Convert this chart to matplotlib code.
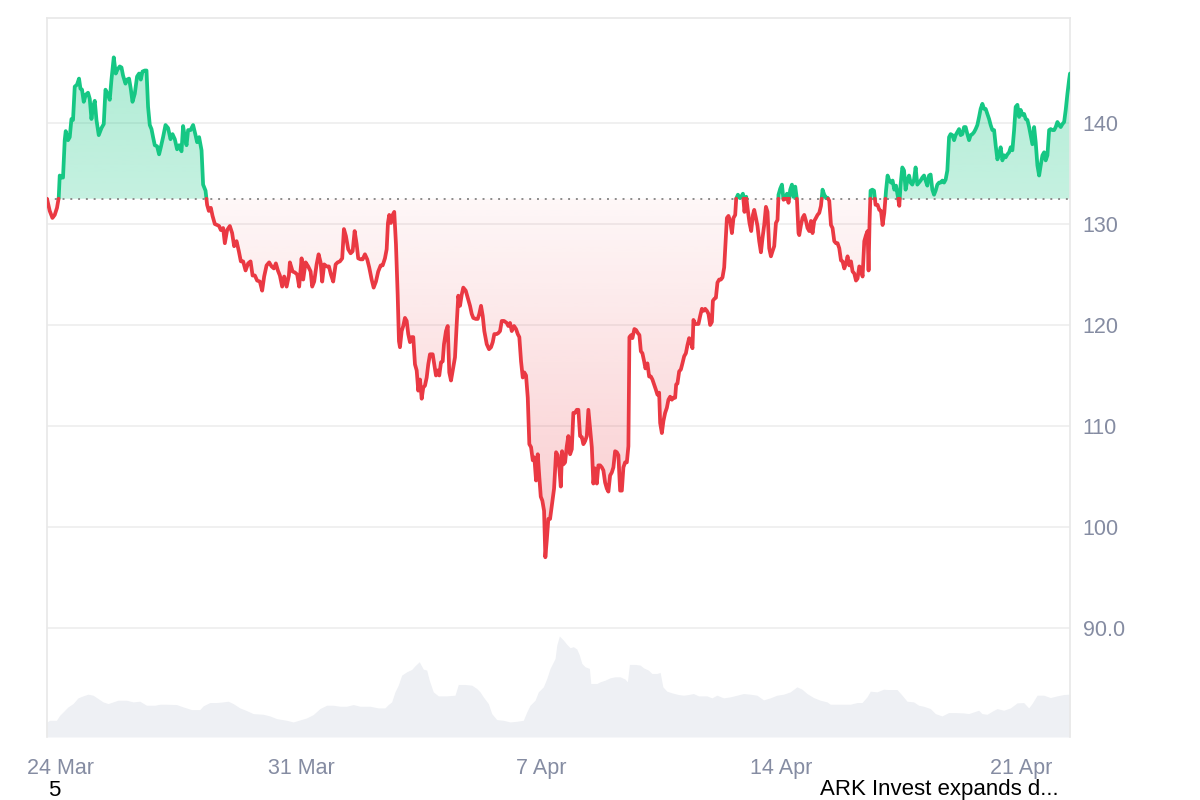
import numpy as np
import matplotlib.pyplot as plt
from matplotlib.path import Path
from matplotlib.colors import to_rgb

# (hours since 24 Mar 00:00, price in USD)
price_points = [
    (-9.6, 132.5), (-7.7, 131.3), (-5.8, 130.6), (-4.2, 130.9), (-2.6, 131.6), (-1.4, 132.6),
    (-0.7, 134.8), (0.5, 134.6), (1.6, 134.6), (2.8, 138.3), (3.5, 139.2), (5.1, 138.3),
    (6.3, 138.6), (7.5, 140.4), (8.6, 140.3), (9.8, 143.6), (11.4, 143.8), (12.8, 144.4),
    (13.8, 143.4), (14.9, 143.3), (16.1, 142.1), (17.5, 142.8), (19.1, 143.0), (20.3, 142.4),
    (21.5, 140.4), (22.6, 141.6), (23.8, 142.2), (25.0, 140.3), (26.6, 138.8), (28.5, 139.5),
    (30.1, 139.9), (31.3, 143.3), (32.7, 142.9), (34.3, 142.3), (35.5, 144.3), (37.1, 146.5),
    (38.5, 144.9), (39.7, 145.3), (41.3, 145.6), (42.5, 145.5), (43.6, 144.7), (45.3, 143.9),
    (46.4, 144.3), (47.8, 144.4), (49.0, 143.4), (50.2, 142.1), (51.8, 142.9), (53.4, 144.6),
    (54.8, 144.9), (56.0, 144.3), (57.2, 145.1), (58.8, 145.2), (60.0, 145.2), (61.1, 141.6),
    (62.3, 139.8), (63.5, 139.4), (64.6, 138.6), (65.8, 137.8), (67.4, 137.7), (68.8, 136.9),
    (70.0, 137.6), (71.6, 138.6), (73.3, 139.8), (75.1, 139.5), (76.8, 138.4), (78.2, 138.9),
    (79.8, 138.4), (81.4, 137.4), (82.8, 137.8), (84.5, 137.2), (85.6, 139.7), (86.8, 138.6),
    (88.0, 137.8), (89.1, 139.3), (90.8, 139.3), (92.6, 139.8), (94.3, 138.8), (95.4, 138.1),
    (96.8, 138.6), (98.5, 137.3), (99.6, 133.9), (101.3, 133.3), (102.4, 131.9), (103.6, 131.3),
    (105.0, 131.6), (106.2, 130.8), (107.8, 130.0), (109.4, 129.9), (110.8, 129.8), (112.0, 129.4),
    (113.6, 129.6), (114.8, 128.1), (116.4, 129.4), (118.3, 129.8), (119.9, 129.1), (121.3, 127.8),
    (123.0, 128.3), (124.6, 127.3), (126.0, 126.3), (127.6, 126.3), (129.3, 125.4), (131.1, 126.1),
    (132.8, 126.3), (134.2, 124.9), (135.8, 124.9), (137.4, 124.4), (139.3, 124.3), (140.9, 123.4),
    (142.3, 124.8), (144.0, 125.9), (145.8, 126.2), (147.5, 125.8), (149.1, 125.6), (150.5, 126.1),
    (151.9, 125.4), (153.3, 124.9), (154.9, 123.8), (156.3, 124.8), (158.0, 123.8), (159.6, 124.9),
    (160.3, 126.2), (162.2, 125.3), (163.8, 125.2), (165.4, 125.0), (166.8, 123.8), (168.5, 126.6),
    (169.6, 124.5), (171.3, 126.2), (173.1, 125.8), (174.8, 125.3), (175.9, 123.8), (177.3, 124.3),
    (179.0, 126.0), (180.4, 127.0), (181.8, 126.2), (182.9, 124.3), (184.3, 126.0), (186.0, 125.8),
    (187.6, 125.8), (189.0, 125.0), (190.6, 124.3), (192.3, 126.0), (193.7, 126.2), (195.3, 126.3),
    (196.9, 126.6), (198.1, 129.5), (199.5, 128.8), (201.1, 127.5), (202.8, 127.1), (204.2, 127.3),
    (205.6, 129.3), (207.0, 128.0), (208.1, 126.6), (209.8, 126.5), (211.2, 126.5), (212.8, 127.0),
    (214.4, 126.5), (215.8, 125.7), (217.5, 124.5), (218.9, 123.7), (220.5, 124.3), (222.1, 125.3),
    (223.8, 125.9), (225.2, 125.9), (226.8, 126.6), (228.0, 127.5), (228.9, 130.1), (229.8, 130.9),
    (231.0, 130.1), (232.2, 130.9), (233.3, 131.2), (234.5, 128.0), (235.7, 123.0), (236.6, 118.4),
    (237.3, 117.8), (238.5, 119.4), (239.6, 119.9), (240.8, 120.7), (242.0, 120.4), (243.1, 119.1),
    (244.3, 118.3), (245.5, 118.8), (246.6, 118.8), (247.8, 116.1), (249.0, 115.5), (250.1, 113.5),
    (251.3, 114.6), (252.5, 112.7), (253.6, 113.8), (254.8, 114.0), (256.0, 114.8), (257.1, 116.1),
    (258.3, 117.1), (260.2, 117.1), (261.3, 116.1), (262.5, 115.0), (263.7, 115.5), (264.8, 115.0),
    (266.0, 116.3), (267.2, 116.4), (268.1, 118.1), (269.5, 119.4), (270.7, 119.9), (271.8, 115.3),
    (273.0, 114.5), (274.2, 115.5), (275.8, 116.8), (277.0, 120.1), (278.1, 122.9), (279.3, 121.9),
    (280.5, 123.0), (281.6, 123.7), (283.3, 123.4), (284.7, 122.7), (286.3, 121.9), (287.5, 121.1),
    (288.6, 120.7), (290.3, 120.6), (291.7, 120.6), (292.8, 121.1), (294.0, 121.9), (295.2, 120.9),
    (296.3, 119.4), (298.0, 118.1), (299.6, 117.6), (301.0, 117.8), (302.2, 118.3), (303.3, 119.1),
    (305.0, 119.1), (306.1, 119.2), (307.3, 119.4), (308.5, 120.4), (310.1, 120.4), (312.0, 120.2),
    (313.1, 119.9), (314.3, 120.2), (315.5, 119.4), (317.1, 119.9), (318.5, 119.6), (319.7, 119.1),
    (320.8, 118.8), (322.0, 116.4), (323.2, 114.8), (324.3, 115.3), (325.5, 115.0), (326.7, 112.8),
    (327.8, 108.2), (329.0, 107.9), (330.2, 106.6), (331.3, 106.9), (332.5, 104.6), (333.7, 107.2),
    (334.8, 104.9), (335.8, 103.0), (336.9, 102.6), (338.1, 101.6), (339.0, 97.0), (340.0, 98.7),
    (341.1, 100.8), (342.3, 100.8), (345.1, 103.8), (346.5, 107.4), (347.7, 107.1), (348.8, 105.8),
    (349.8, 104.0), (350.7, 107.5), (351.6, 106.2), (352.8, 106.4), (354.0, 108.0), (355.1, 109.0),
    (356.3, 107.2), (357.5, 107.7), (358.6, 111.3), (359.8, 111.3), (361.0, 111.6), (362.1, 111.6),
    (363.3, 109.0), (364.5, 108.9), (365.6, 108.2), (366.8, 108.5), (368.0, 109.0), (369.1, 111.6),
    (370.3, 109.7), (371.5, 107.9), (372.6, 104.3), (373.8, 105.8), (375.0, 104.3), (376.1, 106.1),
    (377.3, 106.1), (378.5, 105.9), (379.6, 105.6), (380.8, 104.4), (382.0, 103.8), (383.1, 103.5),
    (384.3, 105.1), (385.5, 105.4), (386.6, 105.9), (387.8, 107.5), (389.0, 107.4), (390.1, 107.1),
    (391.3, 103.6), (392.5, 103.6), (393.6, 105.9), (394.8, 106.4), (396.0, 106.4), (397.1, 108.0),
    (397.8, 118.8), (399.0, 119.0), (399.9, 118.7), (401.3, 119.6), (402.5, 119.5), (403.7, 119.2),
    (404.8, 119.0), (405.8, 117.4), (406.9, 117.2), (408.1, 116.4), (409.0, 115.7), (410.4, 116.2),
    (411.6, 114.9), (412.8, 114.9), (413.9, 114.6), (415.1, 114.1), (416.3, 113.6), (417.4, 113.1),
    (418.6, 113.3), (419.3, 110.3), (420.5, 109.3), (421.6, 110.5), (422.8, 111.3), (424.0, 111.8),
    (425.1, 112.6), (426.3, 112.9), (427.5, 112.6), (428.6, 112.8), (429.8, 112.8), (430.5, 114.1),
    (431.4, 114.2), (432.6, 115.4), (433.8, 115.6), (434.9, 116.2), (436.1, 116.9), (437.3, 117.2),
    (438.4, 118.0), (439.6, 118.7), (440.8, 118.3), (441.9, 117.7), (442.6, 120.5), (443.8, 120.1),
    (445.0, 120.1), (446.1, 120.1), (447.3, 120.9), (448.5, 121.6), (449.6, 121.4), (450.8, 121.6),
    (452.0, 121.4), (453.1, 121.1), (454.3, 120.0), (455.5, 120.3), (456.2, 122.4), (457.3, 122.6),
    (458.3, 122.7), (459.4, 124.2), (460.6, 124.5), (461.8, 124.5), (462.9, 124.7), (464.1, 125.7),
    (464.8, 127.5), (466.0, 130.6), (467.1, 130.8), (468.3, 130.3), (469.5, 129.1), (470.6, 130.6),
    (471.8, 130.9), (472.5, 132.5), (473.7, 132.9), (474.8, 132.6), (476.0, 132.7), (477.2, 133.0),
    (478.3, 131.2), (479.5, 132.7), (480.6, 131.4), (481.8, 130.1), (483.0, 129.3), (484.2, 130.9),
    (485.1, 131.4), (486.3, 130.6), (487.4, 129.8), (488.6, 128.3), (489.8, 127.2), (490.9, 128.6),
    (492.1, 129.9), (493.3, 131.7), (494.4, 131.2), (495.6, 127.6), (496.8, 126.8), (497.9, 127.3),
    (499.1, 127.8), (500.3, 130.1), (501.4, 130.4), (502.1, 132.9), (503.3, 133.5), (504.5, 133.9),
    (505.6, 132.4), (506.8, 132.5), (508.0, 133.0), (509.1, 132.1), (510.3, 133.4), (511.5, 133.9),
    (512.6, 132.7), (513.8, 133.7), (515.0, 132.4), (516.1, 129.1), (516.6, 128.9), (517.8, 129.9),
    (518.9, 130.6), (520.1, 130.9), (521.3, 130.3), (522.4, 129.6), (523.6, 129.3), (524.8, 130.3),
    (525.9, 129.1), (527.1, 130.3), (528.3, 130.6), (529.4, 130.9), (530.6, 131.1), (531.8, 131.8),
    (532.9, 133.4), (534.1, 132.9), (535.3, 132.6), (536.4, 132.6), (537.6, 132.3), (538.8, 129.9),
    (539.9, 129.6), (541.1, 128.3), (542.3, 128.1), (543.4, 128.1), (544.6, 127.6), (545.8, 126.4),
    (546.9, 126.3), (548.1, 125.6), (549.3, 126.1), (550.4, 126.8), (551.6, 125.9), (552.8, 126.3),
    (553.9, 125.3), (555.1, 125.1), (556.3, 124.4), (557.4, 124.6), (558.6, 125.8), (559.8, 125.6),
    (560.9, 124.8), (562.1, 128.3), (563.3, 128.9), (564.4, 129.3), (565.1, 125.4), (565.8, 130.3),
    (566.5, 133.3), (567.7, 133.4), (568.9, 133.3), (570.0, 131.9), (571.4, 131.9), (572.6, 131.4),
    (573.8, 131.3), (574.9, 129.9), (576.1, 131.1), (577.3, 133.3), (578.4, 134.8), (579.6, 134.3),
    (580.8, 134.1), (581.9, 134.3), (583.1, 133.4), (584.3, 133.8), (585.4, 132.9), (586.6, 131.8),
    (587.5, 133.9), (588.7, 135.6), (589.9, 135.3), (591.0, 133.4), (592.2, 134.3), (593.4, 134.8),
    (594.5, 134.1), (595.7, 133.9), (596.9, 134.4), (598.0, 135.6), (599.2, 133.9), (600.4, 134.1),
    (601.5, 134.3), (602.7, 134.6), (603.9, 134.8), (605.0, 134.3), (606.2, 133.8), (607.4, 134.8),
    (608.5, 134.9), (609.7, 133.4), (610.9, 132.9), (612.0, 133.3), (613.2, 133.9), (614.4, 134.1),
    (615.5, 134.1), (616.7, 134.3), (617.9, 134.1), (619.0, 134.4), (620.2, 135.3), (621.4, 138.6),
    (622.5, 138.9), (623.7, 138.8), (624.9, 138.3), (626.0, 138.8), (627.2, 139.1), (628.4, 139.4),
    (629.5, 138.8), (630.7, 138.9), (631.9, 139.6), (633.0, 139.6), (634.2, 138.9), (635.4, 138.3),
    (636.5, 138.8), (637.7, 138.9), (638.9, 139.1), (640.0, 139.4), (641.2, 139.8), (642.4, 140.6),
    (643.5, 141.4), (644.7, 141.9), (645.9, 141.4), (647.0, 141.4), (648.2, 140.9), (649.4, 140.4),
    (650.5, 139.8), (651.7, 139.3), (652.9, 139.3), (654.0, 137.8), (655.2, 136.4), (656.4, 136.9),
    (657.5, 137.6), (658.7, 136.3), (659.9, 136.8), (661.0, 136.6), (662.2, 136.9), (663.4, 137.1),
    (664.5, 137.6), (665.7, 137.3), (666.9, 139.3), (668.0, 141.6), (669.2, 141.8), (670.4, 140.6),
    (671.5, 141.3), (672.7, 140.8), (673.9, 140.9), (675.0, 140.4), (676.2, 140.3), (677.4, 139.6),
    (678.5, 138.8), (679.7, 137.9), (680.9, 139.6), (682.0, 138.1), (683.2, 135.8), (684.4, 134.8),
    (685.5, 135.8), (686.7, 136.8), (687.9, 137.1), (689.0, 136.3), (690.2, 136.8), (691.4, 139.3),
    (692.5, 139.4), (693.7, 139.3), (694.9, 139.3), (696.0, 139.6), (697.2, 140.1), (698.4, 139.8),
    (699.5, 139.6), (700.7, 139.9), (701.9, 140.1), (703.0, 141.3), (704.2, 142.9), (705.4, 144.3),
    (706.0, 144.9),
]

# (hours since 24 Mar 00:00, traded volume, arbitrary units)
volume_points = [
    (-9.6, 45), (-7.7, 50), (-3.0, 50), (-0.7, 65), (2.8, 80), (5.1, 90), (8.6, 100), (12.1, 117),
    (15.6, 123), (19.1, 128), (22.6, 125), (26.1, 115), (29.6, 105), (33.1, 100), (36.6, 105),
    (40.1, 110), (46.0, 110), (50.6, 105), (55.3, 107), (60.0, 95), (65.8, 95), (69.3, 98),
    (74.0, 98), (81.0, 97), (85.6, 90), (91.5, 82), (97.3, 82), (99.6, 93), (104.3, 103),
    (109.0, 103), (113.6, 105), (117.1, 107), (120.6, 100), (125.3, 87), (130.0, 79), (134.6, 70),
    (141.6, 68), (146.3, 63), (151.0, 55), (158.0, 50), (162.6, 45), (167.3, 51), (172.0, 57),
    (176.6, 67), (181.3, 85), (186.0, 95), (190.6, 95), (195.3, 92), (200.0, 92), (204.6, 97),
    (209.3, 92), (216.3, 92), (222.1, 87), (226.8, 87), (229.1, 97), (231.5, 105), (233.8, 135),
    (236.1, 155), (238.5, 185), (242.0, 195), (245.5, 202), (247.8, 213), (250.8, 225),
    (253.6, 203), (256.0, 200), (257.8, 170), (260.6, 135), (264.1, 123), (270.0, 123),
    (275.8, 125), (278.1, 157), (282.8, 157), (287.5, 155), (291.0, 145), (293.3, 135),
    (295.6, 120), (299.1, 100), (301.5, 70), (305.0, 52), (309.6, 50), (314.3, 45), (319.0, 47),
    (323.6, 50), (326.0, 75), (328.3, 95), (331.8, 110), (334.1, 135), (337.6, 150), (340.0, 175),
    (342.3, 205), (345.8, 235), (347.0, 275), (348.8, 302), (351.6, 290), (354.0, 277),
    (356.3, 267), (358.6, 270), (361.0, 263), (362.8, 245), (364.5, 220), (366.8, 210),
    (369.8, 205), (370.8, 160), (375.0, 160), (377.3, 165), (380.8, 170), (384.3, 177),
    (387.8, 180), (391.3, 180), (394.8, 173), (396.4, 165), (397.8, 217), (401.8, 217),
    (405.3, 215), (407.6, 207), (411.1, 200), (413.5, 190), (417.0, 190), (419.3, 193),
    (421.2, 150), (424.0, 137), (427.5, 132), (432.1, 127), (435.6, 125), (439.1, 127),
    (442.6, 130), (446.1, 123), (452.0, 123), (455.5, 117), (459.0, 125), (463.6, 117),
    (468.3, 120), (473.0, 125), (477.6, 130), (482.3, 128), (487.0, 125), (491.6, 111),
    (496.3, 117), (501.0, 125), (505.6, 128), (510.3, 135), (515.0, 150), (518.5, 143),
    (522.0, 130), (526.6, 118), (531.3, 110), (536.0, 105), (538.3, 98), (545.3, 98), (552.3, 98),
    (557.0, 103), (560.5, 103), (564.0, 120), (566.3, 137), (571.0, 135), (575.6, 143),
    (578.0, 142), (585.0, 142), (588.5, 125), (592.0, 107), (596.6, 105), (600.1, 95), (603.6, 92),
    (608.3, 85), (611.8, 70), (616.4, 63), (621.1, 73), (625.8, 73), (631.6, 72), (635.1, 70),
    (638.6, 75), (642.1, 80), (644.4, 70), (648.0, 68), (651.5, 77), (655.0, 85), (659.6, 80),
    (664.3, 87), (669.0, 102), (673.6, 103), (677.1, 87), (679.4, 100), (683.0, 125), (687.6, 125),
    (692.3, 118), (697.0, 123), (701.6, 127), (705.1, 128), (706.0, 128),
]

open_price = 132.5
x_tick_hours = [0, 168, 336, 504, 672]
x_tick_labels = ['24 Mar', '31 Mar', '7 Apr', '14 Apr', '21 Apr']
y_ticks = [90, 100, 110, 120, 130, 140]
y_tick_labels = ['90.0', '100', '110', '120', '130', '140']

GREEN = '#16c784'
RED = '#ea3943'
AXIS_TXT = '#858ca2'


def split_at_base(t, p, base):
    # add a point exactly on the baseline wherever the price crosses it
    tt, pp = [t[0]], [p[0]]
    for i in range(1, len(t)):
        a, b = p[i - 1] - base, p[i] - base
        if a * b < 0:
            f = a / (a - b)
            tt.append(t[i - 1] + f * (t[i] - t[i - 1]))
            pp.append(base)
        tt.append(t[i])
        pp.append(p[i])
    return np.array(tt), np.array(pp)


def gradient_fill(ax, t, p, base, mask, color, far, a_near, a_far):
    coll = ax.fill_between(t, p, base, where=mask, color='none', lw=0)
    clip = Path.make_compound_path(*coll.get_paths())
    lo, hi = sorted([base, far])
    vals = np.linspace(lo, hi, 256)
    k = np.clip(np.abs(vals - base) / abs(far - base), 0, 1)
    img = np.zeros((256, 1, 4))
    img[:, 0, :3] = to_rgb(color)
    img[:, 0, 3] = a_near + (a_far - a_near) * k
    im = ax.imshow(img, extent=[t[0], t[-1], lo, hi], origin='lower',
                   aspect='auto', interpolation='bilinear', zorder=1)
    im.set_clip_path(clip, transform=ax.transData)


t_raw = np.array([pt[0] for pt in price_points])
p_raw = np.array([pt[1] for pt in price_points])
vt = np.array([pt[0] for pt in volume_points])
vv = np.array([pt[1] for pt in volume_points])

t, p = split_at_base(t_raw, p_raw, open_price)

fig = plt.figure(figsize=(12, 8), dpi=100)
ax = fig.add_axes([47 / 1200, 63 / 800, 1023 / 1200, 719 / 800])
axv = ax.twinx()
axv.set_zorder(0)
ax.set_zorder(1)
ax.patch.set_visible(False)

# volume in the background
axv.fill_between(vt, vv, 0, color='#eef0f4', lw=0)
axv.set_ylim(0, 2150)
axv.set_yticks([])
for s in axv.spines.values():
    s.set_visible(False)

gradient_fill(ax, t, p, open_price, p >= open_price, GREEN, 147, 0.25, 0.34)
gradient_fill(ax, t, p, open_price, p <= open_price, RED, 97, 0.04, 0.27)

ax.plot(t, np.where(p >= open_price, p, np.nan), color=GREEN, lw=2.7,
        solid_joinstyle='round', solid_capstyle='round', zorder=3)
ax.plot(t, np.where(p <= open_price, p, np.nan), color=RED, lw=2.7,
        solid_joinstyle='round', solid_capstyle='round', zorder=3)
ax.axhline(open_price, color='#8c8c8c', lw=1.4, ls=(0, (1, 3)), zorder=2)

ax.set_xlim(t_raw[0], t_raw[-1])
ax.set_ylim(79.2, 150.4)
ax.grid(axis='y', color='#eeeeee', lw=1.2)
ax.set_axisbelow(True)

ax.yaxis.tick_right()
ax.set_yticks(y_ticks)
ax.set_yticklabels(y_tick_labels)
ax.set_xticks(x_tick_hours)
ax.set_xticklabels(x_tick_labels)
ax.tick_params(axis='y', length=0, pad=9, labelsize=15.5, labelcolor=AXIS_TXT)
ax.tick_params(axis='x', length=0, pad=15, labelsize=15.5, labelcolor=AXIS_TXT)
for lbl in ax.get_xticklabels() + ax.get_yticklabels():
    lbl.set_family('Liberation Sans')

for side in ['top', 'left', 'right']:
    ax.spines[side].set_color('#e8e8e8')
    ax.spines[side].set_linewidth(1.2)
ax.spines['bottom'].set_visible(False)

fig.text(48 / 1200, 1 - 790 / 800, '5', ha='left', va='center',
         fontsize=16, family='Liberation Sans', color='black')
fig.text(820 / 1200, 1 - 790 / 800, 'ARK Invest expands d...', ha='left',
         va='center', fontsize=16, family='Liberation Sans', color='black')

fig.savefig('out.png', dpi=100)
